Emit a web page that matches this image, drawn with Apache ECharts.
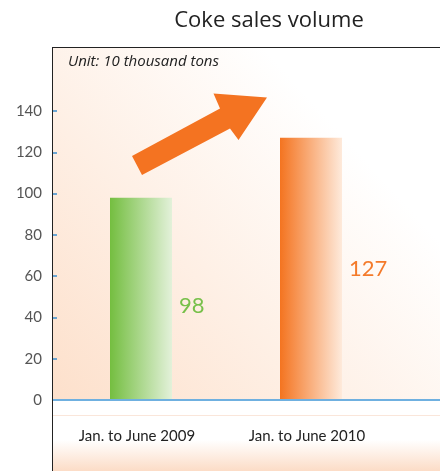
<!DOCTYPE html>
<html>
<head>
<meta charset="utf-8">
<script src="https://cdn.jsdelivr.net/npm/echarts@6/dist/echarts.min.js"></script>
<style>html,body{margin:0;padding:0;background:#fff}#c{width:440px;height:471px}</style>
</head>
<body>
<div id="c"></div>
<script>
var categories = ['Jan. to June 2009', 'Jan. to June 2010'];
var values = [98, 127];
var yTicks = [0, 20, 40, 60, 80, 100, 120, 140];
var titleText = 'Coke sales volume';
var unitText = 'Unit: 10 thousand tons';

var barColors = [
  ['#74be40', '#e3f1da'],
  ['#f47420', '#feeadb']
];
var labelColors = ['#77c04a', '#f47a2a'];
var labelOffsets = [[0, 7], [0, 0]];

var chart = echarts.init(document.getElementById('c'), null, {renderer: 'canvas'});

var seriesData = values.map(function (v, i) {
  return {
    value: v,
    itemStyle: {
      color: new echarts.graphic.LinearGradient(0, 0, 1, 0, [
        {offset: 0, color: barColors[i][0]},
        {offset: 1, color: barColors[i][1]}
      ])
    },
    label: {color: labelColors[i], offset: labelOffsets[i]}
  };
});

var option = {
  animation: false,
  title: {
    text: titleText,
    left: 264,
    textAlign: 'center',
    top: 5,
    textStyle: {fontFamily: 'Open Sans', fontSize: 22, fontWeight: 'normal', color: '#222'}
  },
  grid: {left: 56, top: 111, width: 340, bottom: 71, containLabel: false},
  xAxis: {
    type: 'category',
    data: categories,
    axisLine: {show: false},
    axisTick: {show: false},
    axisLabel: {
      interval: 0,
      margin: 29, fontSize: 15, color: '#222', fontFamily: 'Lato', fontWeight: 'normal',
      padding: [0, 8, 0, 0]
    },
    splitLine: {show: false}
  },
  yAxis: {
    type: 'value',
    min: yTicks[0],
    max: yTicks[yTicks.length - 1],
    interval: yTicks[1] - yTicks[0],
    offset: 4,
    axisLine: {show: true, lineStyle: {color: '#222', width: 1}},
    axisTick: {show: true, inside: true, length: 5, lineStyle: {color: '#3a8fd0', width: 1.5}},
    axisLabel: {margin: 10, fontSize: 15, color: '#555', fontFamily: 'Lato'},
    splitLine: {show: false}
  },
  series: [{
    type: 'bar',
    data: seriesData,
    barWidth: 62,
    z: 5,
    label: {
      show: true,
      position: 'right',
      distance: 7,
      fontSize: 22,
      fontFamily: 'Lato',
      fontWeight: 'normal'
    }
  }],
  graphic: [
    {
      type: 'rect', z: -10, silent: true,
      shape: {x: 52, y: 47, width: 388, height: 353},
      style: {
        fill: new echarts.graphic.LinearGradient(0, 1, 1, 0, [
          {offset: 0, color: '#fde0cb'},
          {offset: 0.75, color: '#ffffff'},
          {offset: 1, color: '#ffffff'}
        ])
      }
    },
    {
      type: 'rect', z: -10, silent: true,
      shape: {x: 52, y: 440, width: 388, height: 31},
      style: {
        fill: new echarts.graphic.LinearGradient(0, 0, 0, 1, [
          {offset: 0, color: '#ffffff'},
          {offset: 1, color: '#fcdcc6'}
        ])
      }
    },
    {
      type: 'line', z: -5, silent: true,
      shape: {x1: 52, y1: 415.5, x2: 440, y2: 415.5},
      style: {stroke: '#fae6da', lineWidth: 1}
    },
    {
      type: 'line', z: 9, silent: true,
      shape: {x1: 52, y1: 400, x2: 440, y2: 400},
      style: {stroke: '#6fb0e0', lineWidth: 2}
    },
    {
      type: 'line', z: 10, silent: true,
      shape: {x1: 52.5, y1: 47, x2: 52.5, y2: 471},
      style: {stroke: '#222', lineWidth: 1}
    },
    {
      type: 'line', z: 10, silent: true,
      shape: {x1: 52, y1: 47.5, x2: 440, y2: 47.5},
      style: {stroke: '#222', lineWidth: 1}
    },
    {
      type: 'polygon', z: 8, silent: true,
      shape: {points: [[132, 156], [220, 108.5], [213.5, 93.5], [267, 97.5], [238.5, 140], [230, 128.5], [142, 175]]},
      style: {fill: '#f47321'}
    },
    {
      type: 'text', z: 10, silent: true,
      x: 68, y: 62,
      style: {
        text: unitText, fill: '#222', fontSize: 15, fontStyle: 'italic',
        fontFamily: 'Open Sans', verticalAlign: 'middle', align: 'left'
      }
    }
  ]
};
chart.setOption(option);
</script>
</body>
</html>
